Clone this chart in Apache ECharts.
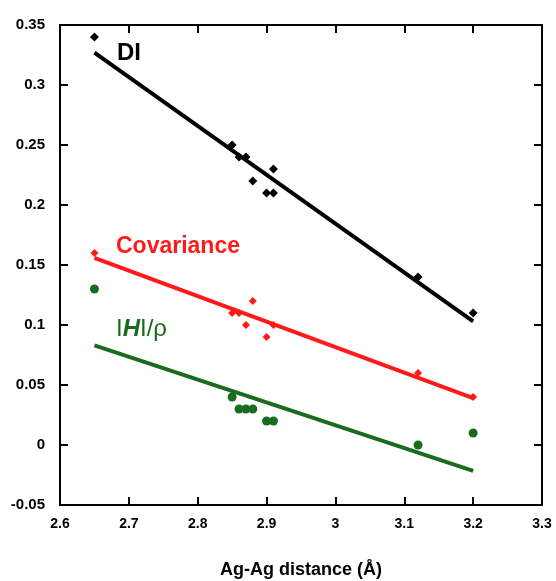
<!DOCTYPE html>
<html>
	<head>
		<meta charset="utf-8">
		<title>Ag-Ag distance</title>
		<script src="https://cdn.jsdelivr.net/npm/echarts@6/dist/echarts.min.js"></script>
		<style>
			* { margin: 0; padding: 0 }
			html, body { width: 100%; height: 100%; background: #fff; }
			#main { width: 556px; height: 581px; }
		</style>
	</head>
	<body>
		<div id="main"></div>
		<script type="text/javascript">
			// distances (Å) for the points
			var distDI = [2.65, 2.85, 2.86, 2.87, 2.88, 2.90, 2.91, 2.91, 3.12, 3.20];
			var valDI = [0.34, 0.25, 0.24, 0.24, 0.22, 0.21, 0.21, 0.23, 0.14, 0.11];
			var distCov = [2.65, 2.85, 2.86, 2.87, 2.88, 2.90, 2.91, 3.12, 3.20];
			var valCov = [0.16, 0.11, 0.11, 0.10, 0.12, 0.09, 0.10, 0.06, 0.04];
			var distH = [2.65, 2.85, 2.86, 2.87, 2.88, 2.90, 2.91, 3.12, 3.20];
			var valH = [0.13, 0.04, 0.03, 0.03, 0.03, 0.02, 0.02, 0.00, 0.01];
			// fitted lines, ends
			var fitX = [2.65, 3.20];
			var fitDI = [0.327, 0.103];
			var fitCov = [0.156, 0.039];
			var fitH = [0.083, -0.0216];

			var black = '#000', red = '#ff1a1a', green = '#1b6b1f';
			function pairs(xs, ys) {
				return xs.map(function(x, i) { return [x, ys[i]]; });
			}
			var fnt = 'Liberation Sans, Arial, sans-serif';
			function axLine() { return { show: true, onZero: false, lineStyle: { color: '#000', width: 2 } }; }
			function tick() { return { show: true, inside: true, length: 8, lineStyle: { color: '#000', width: 2 } }; }
			var xr = { type: 'value', min: 2.6, max: 3.3, interval: 0.1 };
			var yr = { type: 'value', min: -0.05, max: 0.35, interval: 0.05 };
			// frame-only axis: line + inward ticks, no labels
			function frame(base, pos) {
				return Object.assign({}, base, { position: pos, axisLine: axLine(), axisTick: tick(),
					axisLabel: { show: false }, splitLine: { show: false } });
			}

			var chart = echarts.init(document.getElementById('main'));
			chart.setOption({
				animation: false,
				grid: { left: 60, right: 14, top: 25, bottom: 76, outerBoundsMode: 'none', containLabel: false },
				xAxis: [Object.assign({}, xr, {
					axisLine: axLine(), axisTick: { show: false }, splitLine: { show: false },
					axisLabel: { color: '#000', fontWeight: 'bold', fontSize: 14, fontFamily: fnt, margin: 12,
						formatter: function(v) { return String(Math.round(v * 10) / 10); } },
					name: 'Ag-Ag distance (Å)', nameLocation: 'middle', nameGap: 56,
					nameTextStyle: { color: '#000', fontWeight: 'bold', fontSize: 18, fontFamily: fnt }
				}), frame(xr, 'top'), frame(xr, 'bottom')],
				yAxis: [Object.assign({}, yr, {
					axisLine: axLine(), axisTick: { show: false }, splitLine: { show: false },
					axisLabel: { color: '#000', fontWeight: 'bold', fontSize: 15, fontFamily: fnt, margin: 15,
						formatter: function(v) { return String(Math.round(v * 100) / 100); } }
				}), frame(yr, 'right'), frame(yr, 'left')],
				series: [
					{ type: 'line', data: pairs(fitX, fitDI), showSymbol: false, lineStyle: { color: black, width: 4 } },
					{ type: 'line', data: pairs(fitX, fitCov), showSymbol: false, lineStyle: { color: red, width: 4 } },
					{ type: 'line', data: pairs(fitX, fitH), showSymbol: false, lineStyle: { color: green, width: 4 } },
					{ type: 'scatter', data: pairs(distDI, valDI), symbol: 'diamond', symbolSize: 9, itemStyle: { color: black, opacity: 1 } },
					{ type: 'scatter', data: pairs(distCov, valCov), symbol: 'diamond', symbolSize: 8, itemStyle: { color: red, opacity: 1 } },
					{ type: 'scatter', data: pairs(distH, valH), symbol: 'circle', symbolSize: 9, itemStyle: { color: green, opacity: 1 } }
				],
				graphic: [
					{ type: 'text', left: 117, top: 41, style: { text: 'DI', fill: black, font: 'bold 24px ' + fnt } },
					{ type: 'text', left: 116, top: 235, style: { text: 'Covariance', fill: red, font: 'bold 23px ' + fnt } },
					{ type: 'text', left: 116, top: 317, style: {
						text: '{n|I}{i|H}{n|I/ρ}',
						rich: {
							n: { fill: green, fontSize: 24, fontFamily: fnt },
							i: { fill: green, fontSize: 24, fontFamily: fnt, fontStyle: 'italic', fontWeight: 'bold' }
						}
					} }
				]
			});
		</script>
	</body>
</html>
